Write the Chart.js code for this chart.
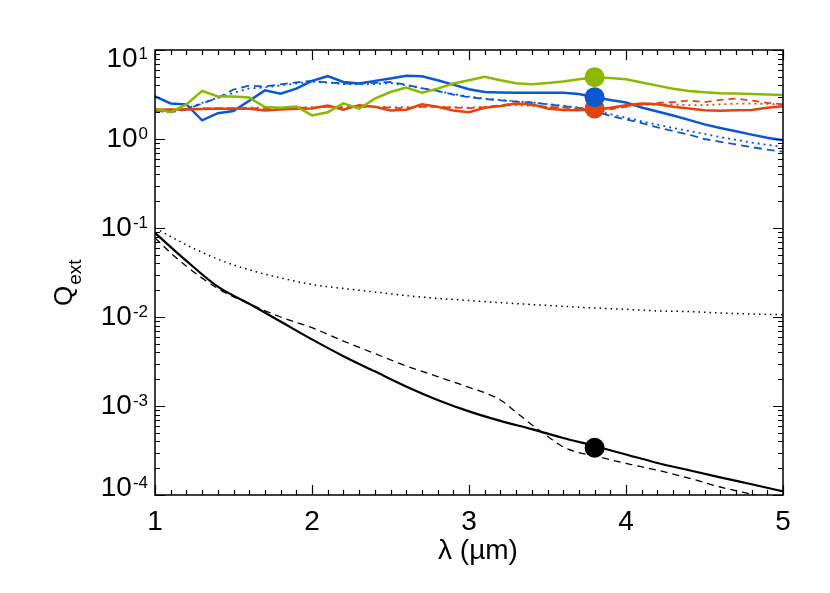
<!DOCTYPE html>
<html>
<head>
<meta charset="utf-8">
<title>Q_ext vs wavelength</title>
<script src="https://cdn.jsdelivr.net/npm/chart.js"></script>
<style>
html,body{margin:0;background:#fff}
canvas{display:block}
</style>
</head>
<body>
<canvas id="c" width="830" height="593"></canvas>
<script>
/* ---------- data ---------- */
const lam = [1.0,1.1,1.2,1.3,1.4,1.5,1.6,1.7,1.8,1.9,
             2.0,2.1,2.2,2.3,2.4,2.5,2.6,2.7,2.8,2.9,
             3.0,3.1,3.2,3.3,3.4,3.5,3.6,3.7,3.8,3.9,
             4.0,4.1,4.2,4.3,4.4,4.5,4.6,4.7,4.8,4.9,5.0];

const greenSolid = [2.19,2.0,2.45,3.47,3.0,3.0,2.92,2.29,2.24,2.32,
                    1.84,2.0,2.51,2.19,2.84,3.37,3.78,3.31,3.68,4.2,
                    4.57,5.0,4.57,4.22,4.12,4.27,4.42,4.68,4.9,4.84,
                    4.68,4.32,3.98,3.67,3.47,3.35,3.27,3.24,3.2,3.16,3.12];

const blueSolid = [3.01,2.51,2.45,1.62,1.95,2.06,2.69,3.52,3.23,3.68,
                   4.5,5.08,4.37,4.2,4.5,4.79,5.12,5.08,4.57,4.08,
                   3.63,3.37,3.33,3.31,3.31,3.31,3.3,3.2,2.95,2.75,
                   2.57,2.26,2.04,1.84,1.64,1.46,1.33,1.22,1.12,1.035,0.97];

const blueDash = [2.09,2.0,2.14,2.51,2.9,3.6,3.98,3.89,4.12,4.32,
                  4.5,4.32,4.2,4.2,4.27,4.37,4.07,3.72,3.47,3.16,
                  2.95,2.82,2.72,2.63,2.57,2.45,2.34,2.24,2.04,1.82,
                  1.66,1.51,1.35,1.23,1.12,1.0,0.93,0.87,0.81,0.76,0.72];

const blueDot = [2.05,2.02,2.2,2.55,2.9,3.3,3.7,3.8,4.0,4.2,
                 4.4,4.3,4.15,4.1,4.15,4.25,4.0,3.7,3.45,3.2,
                 3.0,2.85,2.75,2.66,2.58,2.47,2.37,2.26,2.09,1.9,
                 1.74,1.58,1.45,1.33,1.23,1.14,1.05,0.98,0.91,0.86,0.82];

const redSolid = [2.13,2.15,2.15,2.17,2.19,2.19,2.19,2.09,2.15,2.19,
                  2.2,2.38,2.13,2.4,2.3,2.09,2.13,2.45,2.3,2.09,
                  2.0,2.24,2.35,2.5,2.45,2.2,2.12,2.1,2.15,2.25,
                  2.4,2.5,2.45,2.3,2.2,2.1,2.08,2.1,2.12,2.25,2.34];

const redDash = [2.05,2.1,2.15,2.2,2.2,2.22,2.22,2.2,2.22,2.25,
                 2.25,2.3,2.25,2.3,2.3,2.25,2.22,2.3,2.3,2.25,
                 2.22,2.28,2.4,2.5,2.4,2.3,2.25,2.15,1.95,2.15,
                 2.3,2.45,2.55,2.6,2.7,2.6,2.75,2.85,2.7,2.55,2.45];

const redDot = [2.1,2.12,2.15,2.2,2.22,2.22,2.25,2.25,2.25,2.25,
                2.28,2.3,2.28,2.3,2.3,2.28,2.28,2.3,2.3,2.28,
                2.25,2.28,2.35,2.4,2.35,2.3,2.28,2.22,2.15,2.2,
                2.3,2.4,2.45,2.45,2.4,2.4,2.45,2.5,2.5,2.48,2.45];

const lamBlack = [1.0,1.2,1.4,1.6,1.8,2.0,2.2,2.4,2.6,2.8,3.0,
                  3.2,3.4,3.6,3.8,4.0,4.2,4.4,4.6,4.8,5.0];
const blackSolid = [0.088,0.0427,0.0219,0.0141,0.0089,0.0056,0.00363,0.00245,0.00166,0.00117,0.00087,
                    0.00068,0.00055,0.000437,0.000355,0.000285,0.000229,0.00019,0.000158,0.000132,0.00011];
const blackDot = [0.1,0.0646,0.0447,0.0339,0.0275,0.0232,0.0209,0.0191,0.0174,0.0162,0.0153,
                  0.0145,0.0138,0.0132,0.0126,0.0122,0.0117,0.0115,0.0111,0.0108,0.0106];

const lamBlackDash = [1.0,1.1,1.2,1.4,1.6,1.8,2.0,2.2,2.4,2.6,2.8,3.0,3.1,
                      3.2,3.3,3.4,3.5,3.6,3.7,3.8,4.0,4.2,4.4,4.6,4.8,5.0];
const blackDash = [0.0776,0.0525,0.0372,0.0209,0.0141,0.01,0.00759,0.00537,0.00389,0.00282,0.00214,0.00162,0.00141,
                   0.00117,0.00085,0.000617,0.000457,0.000347,0.0003,0.000275,0.000226,0.00019,0.000155,0.000123,0.000102,0.000085];

// marked points at 3.8 um
const markLam = 3.8;
const markGreen = 4.95, markBlue = 2.95, markRed = 2.2, markBlack = 0.00034;

// axis labels
const xTicks = [1,2,3,4,5];
const yExps = [1,0,-1,-2,-3,-4];

/* ---------- colours ---------- */
const GREEN = '#8cb800', BLUE = '#0a58cf', RED = '#e2440e', BLACK = '#000';

function pts(xs, ys){ return xs.map((x,i)=>({x:x, y:ys[i]})); }
function line(xs, ys, color, w, dash, smooth){
  return {data:pts(xs,ys), borderColor:color, borderWidth:w, borderDash:dash||[],
          pointRadius:0, showLine:true, fill:false,
          tension: smooth ? 0.4 : 0, cubicInterpolationMode: smooth ? 'monotone' : 'default'};
}
function mark(y, color){
  return {data:[{x:markLam, y:y}], showLine:false, pointRadius:10, pointHoverRadius:10,
          pointBackgroundColor:color, pointBorderWidth:0, borderColor:color};
}

/* ---------- axes: box, inward ticks, labels ---------- */
const axesPlugin = {
  id:'axes',
  afterDraw(chart){
    const {ctx, chartArea:a, scales:{x, y}} = chart;
    ctx.save();
    ctx.strokeStyle = '#000'; ctx.lineWidth = 1.5;
    ctx.strokeRect(a.left, a.top, a.right-a.left, a.bottom-a.top);
    ctx.lineWidth = 1.2;
    ctx.beginPath();
    // x ticks every 0.1, major on integers
    for(let k=10;k<=50;k++){
      const px = Math.round(x.getPixelForValue(k/10))+0.5;
      const len = (k%10===0) ? 10 : 5;
      ctx.moveTo(px, a.bottom); ctx.lineTo(px, a.bottom-len);
      ctx.moveTo(px, a.top);    ctx.lineTo(px, a.top+len);
    }
    // y log ticks
    for(let e=-4;e<=1;e++){
      for(let m=1;m<=9;m++){
        const v = m*Math.pow(10,e);
        if(v>10.0001) break;
        const py = Math.round(y.getPixelForValue(v))+0.5;
        const len = (m===1) ? 10 : 5;
        ctx.moveTo(a.left, py);  ctx.lineTo(a.left+len, py);
        ctx.moveTo(a.right, py); ctx.lineTo(a.right-len, py);
      }
    }
    ctx.stroke();

    ctx.fillStyle = '#000';
    const F = '"Liberation Sans", Arial, sans-serif';
    // x tick labels
    ctx.font = '28px '+F; ctx.textAlign = 'center'; ctx.textBaseline = 'alphabetic';
    xTicks.forEach(t=> ctx.fillText(String(t), x.getPixelForValue(t), 530));
    // y tick labels 10^e
    yExps.forEach(e=>{
      let cy = y.getPixelForValue(Math.pow(10,e)) - 2;
      cy = Math.min(Math.max(cy, a.top+7), a.bottom-9);
      const ex = e<0 ? '-'+(-e) : String(e);
      ctx.font = '17px '+F; const we = ctx.measureText(ex).width;
      ctx.font = '28px '+F; const wb = ctx.measureText('10').width;
      const x0 = a.left - 8 - we - wb;
      ctx.textAlign = 'left';
      ctx.fillText('10', x0, cy+10);
      ctx.font = '17px '+F;
      ctx.fillText(ex, x0+wb+1, cy+2);
    });
    // x title
    ctx.font = '28px '+F; ctx.textAlign = 'center';
    ctx.fillText('λ (µm)', 478, 559);
    // y title Q_ext
    ctx.translate(72, 306); ctx.rotate(-Math.PI/2);
    ctx.textAlign = 'left';
    ctx.font = '26px '+F; ctx.fillText('Q', 0, 0);
    const wq = ctx.measureText('Q').width;
    ctx.font = '19px '+F; ctx.fillText('ext', wq+1, 9);
    ctx.restore();
  }
};

new Chart(document.getElementById('c'), {
  type:'scatter',
  data:{datasets:[
    mark(markGreen, GREEN),
    mark(markBlue, BLUE),
    mark(markRed, RED),
    mark(markBlack, BLACK),
    line(lam, greenSolid, GREEN, 2.5),
    line(lam, redSolid, RED, 2.5),
    line(lam, redDash, RED, 1.8, [7,5]),
    line(lam, redDot, RED, 1.8, [2,4]),
    line(lam, blueSolid, BLUE, 2.5),
    line(lam, blueDash, BLUE, 1.8, [8,5]),
    line(lam, blueDot, BLUE, 1.8, [2,4]),
    line(lamBlack, blackSolid, BLACK, 2.2, [], true),
    line(lamBlackDash, blackDash, BLACK, 1.3, [7,5], true),
    line(lamBlack, blackDot, BLACK, 1.5, [1.5,4], true)
  ]},
  options:{
    responsive:false, animation:false, devicePixelRatio:1,
    layout:{padding:{left:155, right:47, top:50, bottom:98}},
    scales:{
      x:{type:'linear', min:1, max:5, display:false},
      y:{type:'logarithmic', min:1e-4, max:10, display:false}
    },
    plugins:{legend:{display:false}, tooltip:{enabled:false}}
  },
  plugins:[axesPlugin]
});
</script>
</body>
</html>
